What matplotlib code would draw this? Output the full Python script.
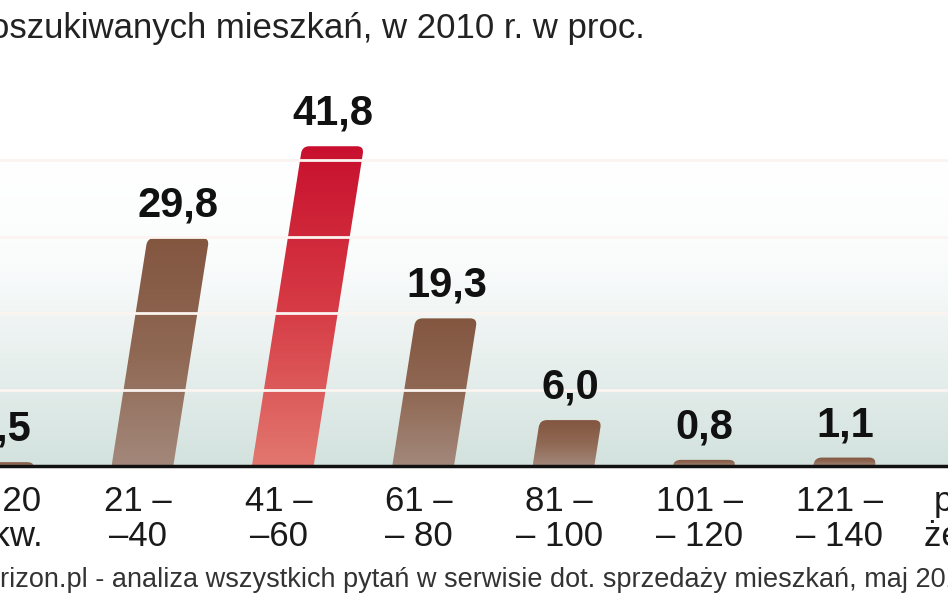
import numpy as np
import matplotlib
matplotlib.use("Agg")
import matplotlib.pyplot as plt
from matplotlib.path import Path
from matplotlib.patches import PathPatch
from matplotlib.colors import LinearSegmentedColormap

# ---- data ----
categories = ["do 20\nm kw.", "21 –\n–40", "41 –\n–60", "61 –\n– 80", "81 –\n– 100",
              "101 –\n– 120", "121 –\n– 140", "powy-\nżej 140"]
values = [0.5, 29.8, 41.8, 19.3, 6.0, 0.8, 1.1, 0.7]
value_labels = ["0,5", "29,8", "41,8", "19,3", "6,0", "0,8", "1,1", "0,7"]
highlight = 2
title = "Struktura poszukiwanych mieszkań, w 2010 r. w proc."
footer = "rizon.pl - analiza wszystkich pytań w serwisie dot. sprzedaży mieszkań, maj 2010"

W, H = 948, 593
fig = plt.figure(figsize=(W / 100, H / 100), dpi=100)
fig.patch.set_facecolor("white")

base_px = 466
top_px = 60
ax = fig.add_axes([0, (H - base_px) / H, 1, (base_px - top_px) / H])
px_per_unit = 7.65
ymax = (base_px - top_px) / px_per_unit
XL = (-0.015, 6.74)
for s in ax.spines.values():
    s.set_visible(False)

# background gradient
bg = LinearSegmentedColormap.from_list("bg", ["#d3e2de", "#e7efed", "#fafcfc", "#ffffff", "#ffffff"])
grad = np.linspace(0, 1, 256).reshape(-1, 1)
ax.imshow(grad, aspect="auto", cmap=bg, origin="lower",
          extent=[XL[0], XL[1], 0, ymax], zorder=0)

# bars
bw = 0.44
slant = 0.157 * px_per_unit / 140.0  # x shift per y unit
rx = 7 / 140.0
brown = LinearSegmentedColormap.from_list("br", ["#a3887b", "#8f6853", "#835640"])
red = LinearSegmentedColormap.from_list("rd", ["#e2776f", "#d63a44", "#c8102e"])
for i, v in enumerate(values):
    x0 = i - bw / 2
    ry = min(7 / px_per_unit, v * 0.9)
    h = v
    verts = [
        (x0, 0), (x0 + bw, 0),
        (x0 + bw + slant * (h - ry), h - ry),
        (x0 + bw + slant * h, h),
        (x0 + bw + slant * h - rx, h),
        (x0 + slant * h + rx, h),
        (x0 + slant * h, h),
        (x0 + slant * (h - ry), h - ry),
        (x0, 0),
    ]
    codes = [Path.MOVETO, Path.LINETO, Path.LINETO, Path.CURVE3, Path.CURVE3,
             Path.LINETO, Path.CURVE3, Path.CURVE3, Path.CLOSEPOLY]
    patch = PathPatch(Path(verts, codes), facecolor="none", edgecolor="none", zorder=2)
    ax.add_patch(patch)
    cmap = red if i == highlight else brown
    im = ax.imshow(grad, aspect="auto", cmap=cmap, origin="lower",
                   extent=[x0, x0 + bw + slant * h, 0, h], zorder=2)
    im.set_clip_path(patch)
    ax.annotate(value_labels[i], (i + slant * h, h), xytext=(0, 9),
                textcoords="offset points", ha="center", va="bottom",
                fontsize=30, fontweight="bold",
                family=["Liberation Sans Narrow", "Liberation Sans"], color="#111111",
                zorder=5, annotation_clip=False)
    ax.annotate(categories[i], (i - 0.03, 0), xytext=(0, -14),
                textcoords="offset points", ha="center", va="top",
                fontsize=25, family=["Liberation Sans", "DejaVu Sans"],
                color="#1a1a1a", linespacing=1.05, annotation_clip=False)

# gridlines over bars
for g in [10, 20, 30, 40]:
    ax.axhline(g, color="#fbf4f0", lw=2.0, zorder=3)
ax.axhline(0, color="#111111", lw=2.5, zorder=4, clip_on=False)

ax.set_xticks([])
ax.set_yticks([])
ax.set_xlim(*XL)
ax.set_ylim(0, ymax)

fig.text(645 / W, 1 - 38 / H, title, ha="right", va="baseline", fontsize=25,
         family=["Liberation Sans Narrow", "Liberation Sans"], color="#222222")
fig.text(0 / W, 1 - 587 / H, footer, ha="left", va="baseline", fontsize=19.5,
         family=["Liberation Sans Narrow", "Liberation Sans"], color="#333333")

fig.savefig("out.png", dpi=100)
